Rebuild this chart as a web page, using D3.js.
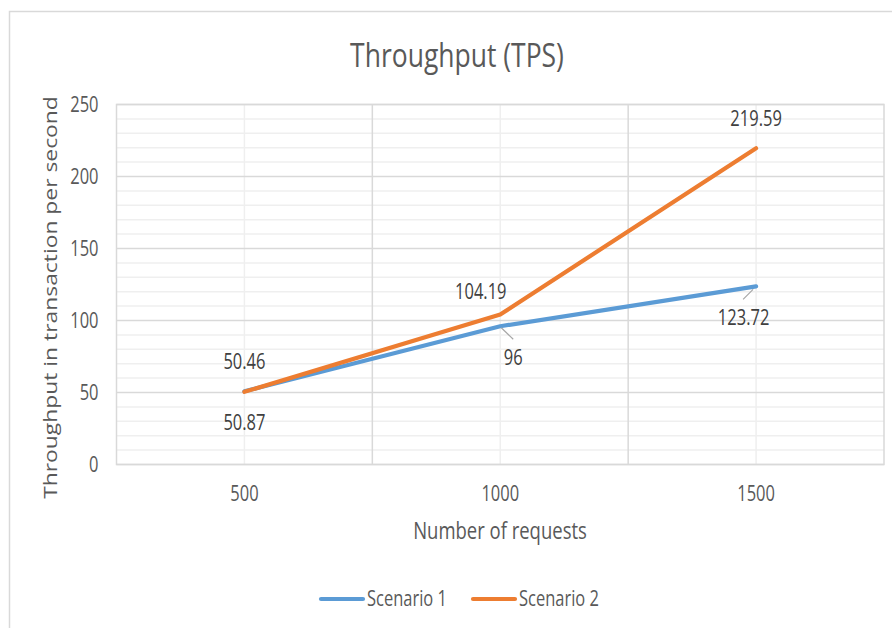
<!DOCTYPE html>
<html>
<head>
<meta charset="utf-8">
<script src="https://cdn.jsdelivr.net/npm/d3@7"></script>
<style>
	body { margin: 0; background: #fff; }
	text { font-family: "Open Sans", "Noto Sans", sans-serif; fill: #595959; }
</style>
</head>
<body>
<div id="chart"></div>
<script>

///////////////////////////////////////////////////////////////////////////
//////////////////////////////// Data ///////////////////////////////////// 
///////////////////////////////////////////////////////////////////////////

var categories = ["500", "1000", "1500"];
var scenario1 = [50.87, 96, 123.72];
var scenario2 = [50.46, 104.19, 219.59];
var seriesNames = ["Scenario 1", "Scenario 2"];
var yTicks = [0, 50, 100, 150, 200, 250];

var colors = ["#5B9BD5", "#ED7D31"];

//The original picture is stretched vertically, so glyphs are taller than wide
var stretch = 1.27;

///////////////////////////////////////////////////////////////////////////
//////////////////////////// Set up the svg ///////////////////////////////
///////////////////////////////////////////////////////////////////////////

var W = 892, H = 628;
var margin = { top: 104.5, left: 116.5 };
var width = 884 - margin.left,
	height = 464.5 - margin.top;

var svgRoot = d3.select("#chart").append("svg")
	.attr("width", W)
	.attr("height", H);

//Outer chart border (only top and left are visible in the frame)
svgRoot.append("rect")
	.attr("x", 9.5).attr("y", 11.5)
	.attr("width", W).attr("height", H)
	.style("fill", "none")
	.style("stroke", "#d9d9d9")
	.style("stroke-width", 1.5);

var svg = svgRoot.append("g")
	.attr("transform", "translate(" + margin.left + "," + margin.top + ")");

var x = d3.scaleBand().domain(categories).range([0, width]);
var y = d3.scaleLinear().domain([0, 250]).range([height, 0]);

//Place a vertically centred, stretched text
function addText(parent, tx, ty, str, size, anchor, fill) {
	var g = parent.append("g")
		.attr("transform", "translate(" + tx + "," + ty + ") scale(1," + stretch + ")");
	g.append("text")
		.attr("dy", "0.35em")
		.style("text-anchor", anchor || "middle")
		.style("font-size", size + "px")
		.style("fill", fill || "#595959")
		.text(str);
	return g;
}

///////////////////////////////////////////////////////////////////////////
/////////////////////////////// Gridlines /////////////////////////////////
///////////////////////////////////////////////////////////////////////////

//Minor horizontal gridlines
svg.append("g").selectAll("line")
	.data(d3.range(0, 251, 10).filter(function(d) { return d % 50 !== 0; }))
	.enter().append("line")
	.attr("x1", 0).attr("x2", width)
	.attr("y1", function(d) { return y(d); })
	.attr("y2", function(d) { return y(d); })
	.style("stroke", "#efefef")
	.style("stroke-width", 1.5);

//Minor vertical gridlines at category centres
svg.append("g").selectAll("line")
	.data(categories)
	.enter().append("line")
	.attr("x1", function(d) { return x(d) + x.bandwidth()/2; })
	.attr("x2", function(d) { return x(d) + x.bandwidth()/2; })
	.attr("y1", 0).attr("y2", height)
	.style("stroke", "#efefef")
	.style("stroke-width", 1.5);

//Major horizontal gridlines
svg.append("g").selectAll("line")
	.data(yTicks)
	.enter().append("line")
	.attr("x1", 0).attr("x2", width)
	.attr("y1", function(d) { return y(d); })
	.attr("y2", function(d) { return y(d); })
	.style("stroke", "#d9d9d9")
	.style("stroke-width", 1.5);

//Major vertical gridlines at category boundaries
svg.append("g").selectAll("line")
	.data(categories.slice(1))
	.enter().append("line")
	.attr("x1", function(d) { return x(d); })
	.attr("x2", function(d) { return x(d); })
	.attr("y1", 0).attr("y2", height)
	.style("stroke", "#d9d9d9")
	.style("stroke-width", 1.5);

//Plot area border
svg.append("rect")
	.attr("width", width).attr("height", height)
	.style("fill", "none")
	.style("stroke", "#d9d9d9")
	.style("stroke-width", 1.5);

///////////////////////////////////////////////////////////////////////////
///////////////////////////////// Axes ////////////////////////////////////
///////////////////////////////////////////////////////////////////////////

var yAxis = svg.append("g")
	.call(d3.axisLeft(y).tickValues(yTicks).tickSize(0));
yAxis.select(".domain").remove();
yAxis.selectAll("text")
	.attr("x", 0).attr("dy", "0.35em")
	.attr("transform", "translate(-18,0) scale(1," + stretch + ")")
	.style("font-size", "16.5px").style("fill", "#595959");

var xAxis = svg.append("g")
	.attr("transform", "translate(0," + height + ")")
	.call(d3.axisBottom(x).tickSize(0));
xAxis.select(".domain").remove();
xAxis.selectAll("text")
	.attr("y", 0).attr("dy", "0.35em")
	.attr("transform", "translate(0,29.5) scale(1," + stretch + ")")
	.style("font-size", "16.5px").style("fill", "#595959");

//Title
addText(svgRoot, 457, 55, "Throughput (TPS)", 26.5);

//Axis titles
addText(svgRoot, 500, 531, "Number of requests", 18.5);

svgRoot.append("text")
	.attr("transform", "translate(57,297.5) rotate(-90) scale(" + stretch + ",1)")
	.style("text-anchor", "middle")
	.style("font-size", "18px")
	.text("Throughput in transaction per second");

///////////////////////////////////////////////////////////////////////////
/////////////////////////////// Lines /////////////////////////////////////
///////////////////////////////////////////////////////////////////////////

var allSeries = [scenario1, scenario2];

var line = d3.line()
	.x(function(d, i) { return x(categories[i]) + x.bandwidth()/2; })
	.y(function(d) { return y(d); });

svg.selectAll(".seriesLine")
	.data(allSeries)
	.enter().append("path")
	.attr("class", "seriesLine")
	.attr("d", line)
	.style("fill", "none")
	.style("stroke", function(d, i) { return colors[i]; })
	.style("stroke-width", 4.2)
	.style("stroke-linecap", "round")
	.style("stroke-linejoin", "round");

///////////////////////////////////////////////////////////////////////////
//////////////////////////// Data labels //////////////////////////////////
///////////////////////////////////////////////////////////////////////////

//Offsets of each label centre relative to its point
var labelOffsets = [
	[[0, 31], [13, 31], [-12.5, 31]],
	[[0, -30], [-19.5, -23], [0, -30]]
];
//Leader lines for labels that moved away from the point
var leaders = [
	[null, [[1, 1.5], [13, 13]], [[-3, 3], [-13, 13]]],
	[null, null, null]
];

allSeries.forEach(function(series, s) {
	series.forEach(function(v, i) {
		var px = x(categories[i]) + x.bandwidth()/2,
			py = y(v);
		var off = labelOffsets[s][i];
		addText(svg, px + off[0], py + off[1], v, 16.5, "middle", "#404040");
		var ld = leaders[s][i];
		if (ld) {
			svg.append("line")
				.attr("x1", px + ld[0][0]).attr("y1", py + ld[0][1])
				.attr("x2", px + ld[1][0]).attr("y2", py + ld[1][1])
				.style("stroke", "#a6a6a6")
				.style("stroke-width", 1.2);
		}
	});
});

///////////////////////////////////////////////////////////////////////////
/////////////////////////////// Legend ////////////////////////////////////
///////////////////////////////////////////////////////////////////////////

var legendX = [321, 473];
var legend = svgRoot.selectAll(".legendItem")
	.data(seriesNames)
	.enter().append("g")
	.attr("class", "legendItem")
	.attr("transform", function(d, i) { return "translate(" + legendX[i] + ",599)"; });

legend.append("line")
	.attr("x1", 0).attr("x2", 42)
	.style("stroke", function(d, i) { return colors[i]; })
	.style("stroke-width", 4.2)
	.style("stroke-linecap", "round");

legend.each(function(d) {
	addText(d3.select(this), 46, 0, d, 16.5, "start");
});

</script>
</body>
</html>
